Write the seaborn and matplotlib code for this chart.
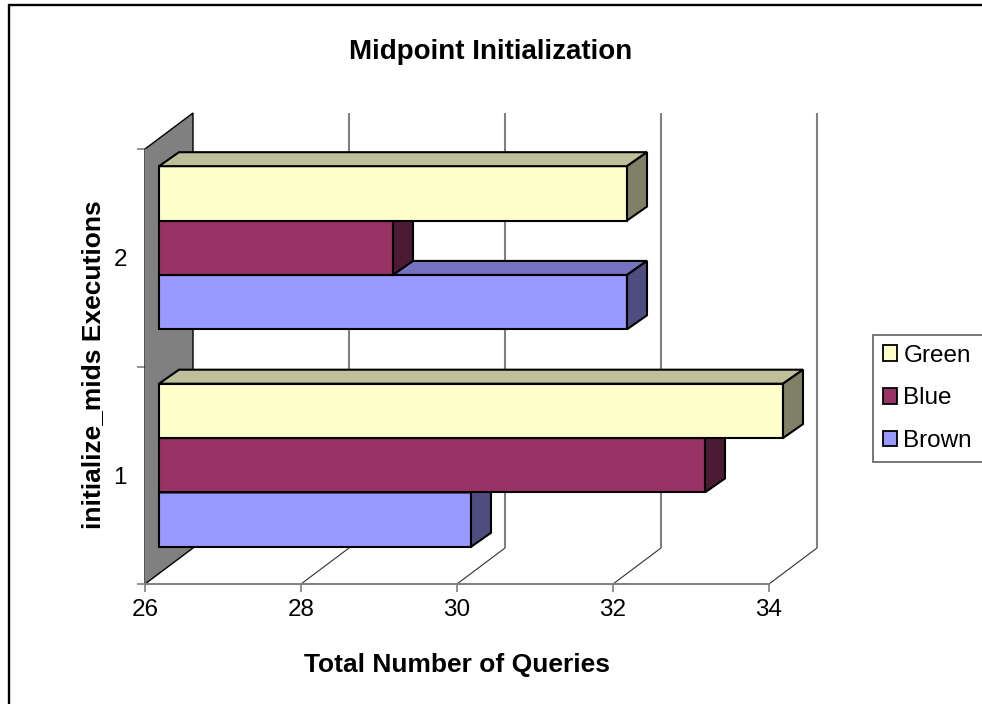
import numpy as np
import pandas as pd
import matplotlib
matplotlib.use("Agg")
import matplotlib.pyplot as plt
from matplotlib.patches import Polygon, Patch
from matplotlib.lines import Line2D
from matplotlib.transforms import ScaledTranslation
from matplotlib.colors import to_rgb
import seaborn as sns

# ---- data ---------------------------------------------------------------
executions = ["2", "1"]                 # listed top to bottom
series = ["Green", "Blue", "Brown"]     # stacking order inside a group, top to bottom
green = [32, 34]
blue = [29, 33]
brown = [32, 30]
x_ticks = [26, 28, 30, 32, 34]
series_colors = {"Green": "#FFFFCC", "Blue": "#993366", "Brown": "#9999FF"}

x_base, x_top = x_ticks[0], x_ticks[-1]

df = pd.DataFrame({
    "execution": executions * 3,
    "series": ["Green"] * 2 + ["Blue"] * 2 + ["Brown"] * 2,
    "queries": green + blue + brown,
})

# ---- figure ---------------------------------------------------------------
sns.set_theme(style="white")
plt.rcParams["font.family"] = ["Liberation Sans", "DejaVu Sans"]
plt.rcParams["text.color"] = "black"
plt.rcParams["axes.labelcolor"] = "black"
plt.rcParams["xtick.color"] = "black"
plt.rcParams["ytick.color"] = "black"

W, H, DPI = 982, 704, 100
fig = plt.figure(figsize=(W / DPI, H / DPI), dpi=DPI)
fig.patch.set_facecolor("white")
# front plane of the plot area, in pixels: left, top, right, bottom
pl, pt, pr, pb = 145, 149, 769, 584
ax = fig.add_axes([pl / W, (H - pb) / H, (pr - pl) / W, (pb - pt) / H])
ax.set_facecolor("none")

EDGE_LW = 1.5
sns.barplot(data=df, x="queries", y="execution", hue="series",
            order=executions, hue_order=series, palette=series_colors,
            width=0.75, errorbar=None, saturation=1, orient="h",
            edgecolor="black", linewidth=EDGE_LW, legend=False, ax=ax)

ax.set_xlim(x_base, x_top)
ax.set_ylim(len(executions) - 0.5, -0.5)

GRID = "#808080"
WALL_DEPTH = (48, 36)   # pixel shift from front plane to back wall
BAR_FRONT = (14, 10)    # pixel shift of the bars' front faces
BAR_DEPTH = (20, 14)    # pixel depth of each bar


def shift(x, y, dx, dy):
    """Data point moved by (dx, dy) display pixels, returned in data units."""
    X, Y = ax.transData.transform((x, y))
    return tuple(ax.transData.inverted().transform((X + dx, Y + dy)))


y_front_bottom = len(executions) - 0.5
y_front_top = -0.5

# side wall on the left
wall = Polygon([(x_base, y_front_bottom), (x_base, y_front_top),
                shift(x_base, y_front_top, *WALL_DEPTH),
                shift(x_base, y_front_bottom, *WALL_DEPTH)],
               closed=True, facecolor="#808080", edgecolor="black",
               linewidth=1.0, zorder=1.5, clip_on=False)
ax.add_patch(wall)

# floor lines and back-wall gridlines
for t in x_ticks[1:]:
    fx, fy = t, y_front_bottom
    bx, by = shift(t, y_front_bottom, *WALL_DEPTH)
    tx, ty = shift(t, y_front_top, *WALL_DEPTH)
    ax.plot([fx, bx], [fy, by], color="#303030", lw=0.8, zorder=1.2,
            clip_on=False, solid_capstyle="butt")
    ax.plot([bx, tx], [by, ty], color=GRID, lw=1.5, zorder=1.2,
            clip_on=False, solid_capstyle="butt")

# turn the flat bars into boxes
front_shift = ScaledTranslation(BAR_FRONT[0] / DPI, BAR_FRONT[1] / DPI,
                                fig.dpi_scale_trans)
layer = {"Brown": 3, "Blue": 4, "Green": 5}
for name, container in zip(series, ax.containers):
    base_rgb = np.array(to_rgb(series_colors[name]))
    top_rgb = base_rgb * 0.75
    side_rgb = base_rgb * 0.5
    z = layer[name]
    for rect in container:
        value = rect.get_x() + rect.get_width()
        y_hi, h = rect.get_y(), rect.get_height()
        rect.set_x(x_base)
        rect.set_width(value - x_base)
        rect.set_transform(ax.transData + front_shift)
        rect.set_zorder(z)
        rect.set_clip_on(False)

        ftl = shift(x_base, y_hi, *BAR_FRONT)
        ftr = shift(value, y_hi, *BAR_FRONT)
        fbr = shift(value, y_hi + h, *BAR_FRONT)
        d = BAR_DEPTH
        btl = shift(x_base, y_hi, BAR_FRONT[0] + d[0], BAR_FRONT[1] + d[1])
        btr = shift(value, y_hi, BAR_FRONT[0] + d[0], BAR_FRONT[1] + d[1])
        bbr = shift(value, y_hi + h, BAR_FRONT[0] + d[0], BAR_FRONT[1] + d[1])
        ax.add_patch(Polygon([ftl, ftr, btr, btl], closed=True,
                             facecolor=top_rgb, edgecolor="black",
                             linewidth=EDGE_LW, zorder=z, clip_on=False,
                             joinstyle="miter"))
        ax.add_patch(Polygon([ftr, fbr, bbr, btr], closed=True,
                             facecolor=side_rgb, edgecolor="black",
                             linewidth=EDGE_LW, zorder=z, clip_on=False,
                             joinstyle="miter"))

# axes styling
for side in ("top", "right"):
    ax.spines[side].set_visible(False)
ax.spines["bottom"].set_color(GRID)
ax.spines["bottom"].set_linewidth(1.4)
ax.spines["left"].set_color(GRID)
ax.spines["left"].set_linewidth(1.0)
ax.spines["bottom"].set_zorder(1.6)

ax.set_xticks(x_ticks, labels=[str(t) for t in x_ticks])
ax.tick_params(axis="x", which="major", direction="out", length=5.8,
               width=1.2, color=GRID, labelsize=17.5, pad=5,
               labelcolor="black", bottom=True)
ax.set_yticks(range(len(executions)), labels=executions)
ax.set_yticks(np.arange(-0.5, len(executions)), minor=True)
ax.tick_params(axis="y", which="major", length=0, labelsize=17.5, pad=13,
               labelcolor="black", left=True)
ax.tick_params(axis="y", which="minor", direction="out", length=5.8,
               width=1.2, color=GRID, left=True)

ax.set_xlabel("Total Number of Queries", fontsize=19, fontweight="bold",
              color="black")
ax.xaxis.set_label_coords((457 - pl) / (pr - pl), ((H - 665) - (H - pb)) / (pb - pt))
ax.xaxis.label.set_va("center")
ax.set_ylabel("initialize_mids Executions", fontsize=19, fontweight="bold",
              color="black")
ax.yaxis.set_label_coords((93 - pl) / (pr - pl), ((H - 365) - (H - pb)) / (pb - pt))
ax.yaxis.label.set_va("center")
ax.yaxis.label.set_ha("center")

fig.text(491 / W, 1 - 52 / H, "Midpoint Initialization", fontsize=20,
         fontweight="bold", ha="center", va="center", color="black")

# legend
handles = [Patch(facecolor=series_colors[s], edgecolor="black", linewidth=1.3)
           for s in series]
leg = fig.legend(handles, series, loc="upper left",
                 bbox_to_anchor=(873 / W, 0, 135 / W, 1 - 335 / H),
                 bbox_transform=fig.transFigure, mode="expand",
                 frameon=True, fancybox=False, framealpha=1,
                 borderaxespad=0, borderpad=0.4, handlelength=0.6,
                 handleheight=0.6, handletextpad=0.25, labelspacing=0.85,
                 fontsize=17.5, labelcolor="black")
leg.get_frame().set_edgecolor("#606060")
leg.get_frame().set_linewidth(1.2)

# chart border
fig.add_artist(Line2D([9 / W, 1.01], [1 - 5 / H] * 2, color="black", lw=1.7,
                      transform=fig.transFigure))
fig.add_artist(Line2D([9 / W] * 2, [-0.01, 1 - 5 / H], color="black", lw=1.7,
                      transform=fig.transFigure))

fig.savefig("out.png", dpi=DPI)
